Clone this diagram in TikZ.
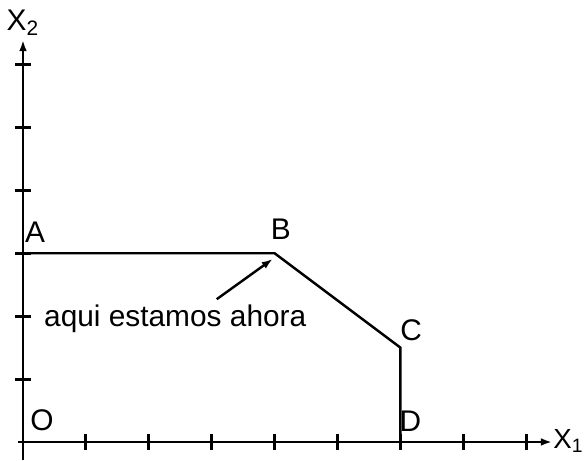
\documentclass[tikz,border=0pt]{standalone}
\usepackage{fontspec}
\setmainfont{Liberation Sans}
\usetikzlibrary{arrows.meta}
\begin{document}
\begin{tikzpicture}[font=\fontsize{13.5}{16}\selectfont]
            \useasboundingbox (-0.366,-0.302) rectangle (8.951,7.027);
            \coordinate (O) at (0,0);
            \coordinate (A) at (0,3);
            \coordinate (B) at (4,3);
            \coordinate (C) at (6,1.5);
            \coordinate (D) at (6,0);
            \coordinate (xend) at (8.41,0);
            \coordinate (yend) at (0,6.39);
            % axes and ticks
            \draw[line width=1.3pt, -{Latex[length=5pt,width=3.5pt]}] (-0.08,0) -- (xend);
            \draw[line width=1.3pt, -{Latex[length=5pt,width=3.5pt]}] (0,-0.29) -- (yend);
            \foreach \i in {1,...,8} \draw[line width=1.3pt] (\i,-0.13) -- (\i,0.13);
            \foreach \j in {1,...,6} \draw[line width=1.3pt] (-0.12,\j) -- (0.12,\j);
            \node[anchor=east, inner xsep=0.5pt, font=\fontsize{12.5}{15}\selectfont] (x1) at (8.94,0.02) {X\textsubscript{1}};
            \node (x2) at (0.0,6.66) {X\textsubscript{2}};
            % feasible boundary
            \draw[line width=1.1pt] (A) -- (B) -- (C) -- (D);
            \node (lA) at (0.19,3.34) {A};
            \node (lB) at (4.10,3.39) {B};
            \node (lC) at (6.17,1.78) {C};
            \node (lD) at (6.16,0.33) {D};
            \node (lO) at (0.30,0.35) {O};
            \node[anchor=base] (here) at (2.42,1.83) {aqui estamos ahora};
            \coordinate (tail) at (3.08,2.27);
            \coordinate (tip) at (3.97,2.91);
            \draw[line width=1.1pt, -{Latex[length=5pt,width=3.5pt]}] (tail) -- (tip);
          \end{tikzpicture}
\end{document}
